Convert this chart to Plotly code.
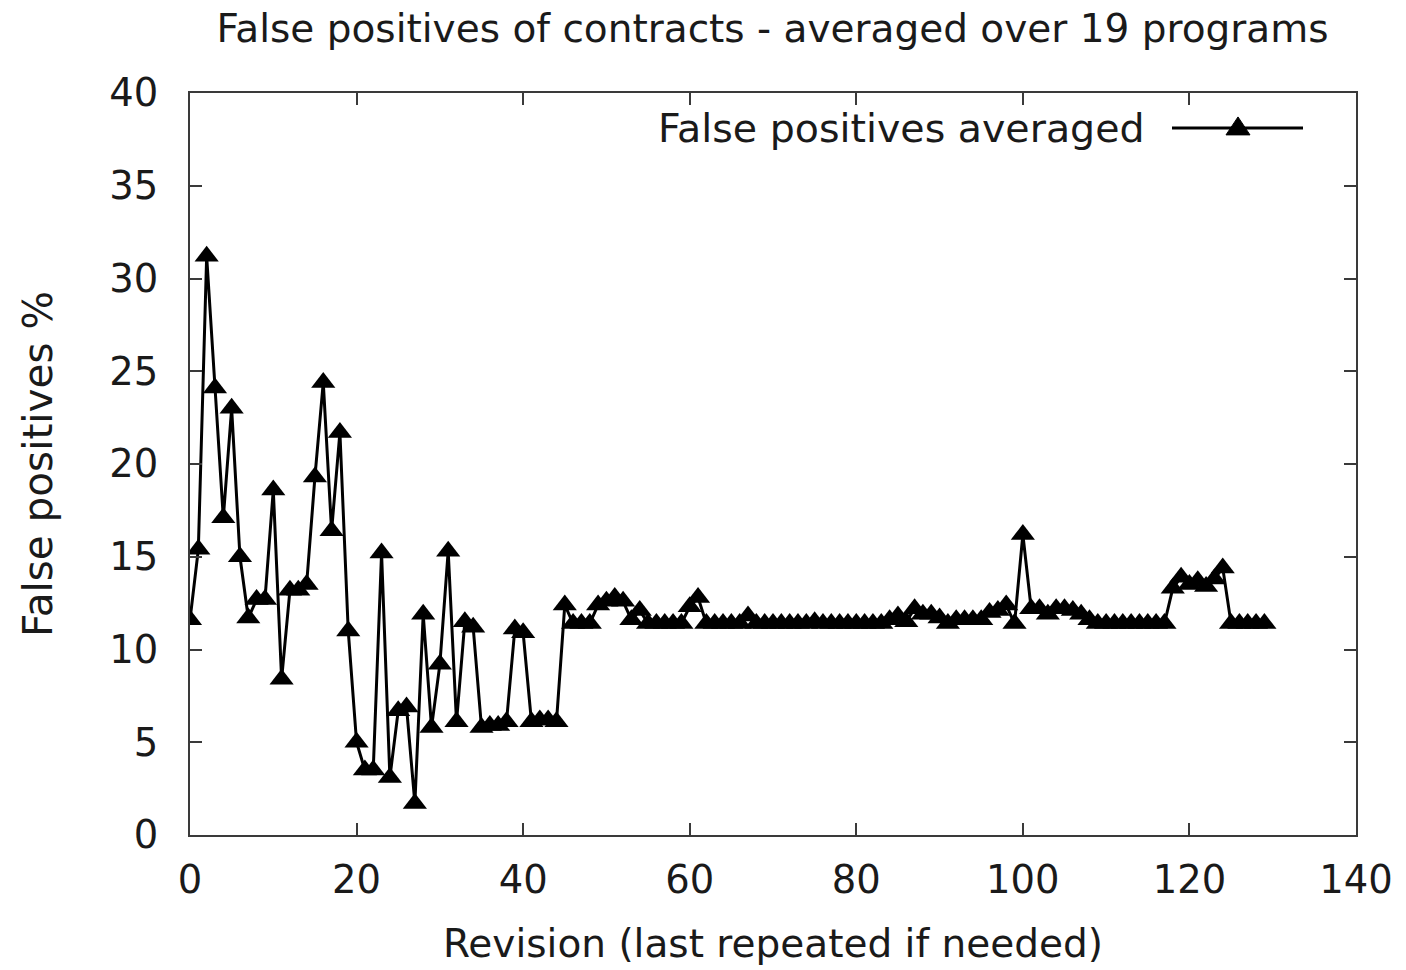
import plotly.graph_objects as go

# ---- data ----
revisions = list(range(130))
false_pos = [
    11.6, 15.4, 31.2, 24.1, 17.1, 23.0, 15.0, 11.7, 12.7, 12.7,
    18.6, 8.4, 13.2, 13.2, 13.5, 19.3, 24.4, 16.4, 21.7, 11.0,
    5.0, 3.5, 3.5, 15.2, 3.1, 6.7, 6.9, 1.7, 11.9, 5.8,
    9.2, 15.3, 6.1, 11.5, 11.2, 5.8, 5.9, 5.9, 6.1, 11.1,
    10.9, 6.1, 6.2, 6.2, 6.1, 12.4, 11.4, 11.4, 11.4, 12.4,
    12.6, 12.8, 12.6, 11.6, 12.1, 11.4, 11.4, 11.4, 11.4, 11.4,
    12.3, 12.8, 11.4, 11.4, 11.4, 11.4, 11.4, 11.8, 11.4, 11.4,
    11.4, 11.4, 11.4, 11.4, 11.4, 11.5, 11.4, 11.4, 11.4, 11.4,
    11.4, 11.4, 11.4, 11.4, 11.6, 11.8, 11.5, 12.2, 11.9, 11.9,
    11.7, 11.4, 11.6, 11.6, 11.6, 11.6, 12.0, 12.1, 12.4, 11.4,
    16.2, 12.2, 12.2, 11.9, 12.2, 12.2, 12.1, 11.9, 11.6, 11.4,
    11.4, 11.4, 11.4, 11.4, 11.4, 11.4, 11.4, 11.4, 13.3, 13.9,
    13.5, 13.7, 13.4, 13.8, 14.4, 11.4, 11.4, 11.4, 11.4, 11.4,
]
x_ticks = [0, 20, 40, 60, 80, 100, 120, 140]
y_ticks = [0, 5, 10, 15, 20, 25, 30, 35, 40]
series_name = "False positives averaged"
title_text = "False positives of contracts - averaged over 19 programs"
x_title = "Revision (last repeated if needed)"
y_title = "False positives %"

# ---- layout geometry (pixels) ----
W, H = 1406, 970
L, R, T, B = 190, 1356, 93, 837
FONT = "DejaVu Sans, Liberation Sans, Arial, sans-serif"
TXT = "#1a1a1a"


def px(xp):
    return (xp - L) / (R - L)


def py(yp):
    return (B - yp) / (B - T)


fig = go.Figure()
fig.add_trace(go.Scatter(
    x=revisions, y=false_pos, mode="lines+markers", name=series_name,
    line=dict(color="black", width=3),
    marker=dict(symbol="triangle-up", size=21, color="black"),
    showlegend=False,
))

axis_common = dict(
    showgrid=False, zeroline=False, showline=True, linecolor="#3a3a3a",
    linewidth=2, mirror="allticks", ticks="inside", ticklen=12,
    tickwidth=2, tickcolor="#3a3a3a",
    tickfont=dict(family=FONT, size=38.5, color=TXT),
)

fig.update_layout(
    width=W, height=H,
    margin=dict(l=L, r=W - R, t=T, b=H - B),
    paper_bgcolor="white", plot_bgcolor="white",
    font=dict(family=FONT, color=TXT),
    title=dict(text=title_text, x=(220 + 1325) / 2 / W, xanchor="center",
               y=1 - 28 / H, yanchor="middle",
               font=dict(family=FONT, size=39, color=TXT)),
    xaxis=dict(range=[0, 140], tickvals=x_ticks, ticklabelstandoff=10,
               title=dict(text=x_title, standoff=28,
                          font=dict(family=FONT, size=39, color=TXT)),
               **axis_common),
    yaxis=dict(range=[0, 40], tickvals=y_ticks, ticklabelstandoff=22,
               title=dict(text=y_title, standoff=44,
                          font=dict(family=FONT, size=40.5, color=TXT)),
               **axis_common),
    showlegend=False,
)

# legend (gnuplot style: text on the left, sample on the right)
ly = 128
fig.add_annotation(text=series_name, xref="paper", yref="paper",
                   x=px(1147), y=py(ly), xanchor="right", yanchor="middle",
                   showarrow=False,
                   font=dict(family=FONT, size=39.5, color=TXT))
fig.add_shape(type="line", xref="paper", yref="paper",
              x0=px(1172), x1=px(1303), y0=py(ly), y1=py(ly),
              line=dict(color="black", width=3))
cx = 1238
tri = "M{:.5f},{:.5f} L{:.5f},{:.5f} L{:.5f},{:.5f} Z".format(
    px(cx), py(ly - 11), px(cx - 12), py(ly + 7), px(cx + 12), py(ly + 7))
fig.add_shape(type="path", xref="paper", yref="paper", path=tri,
              fillcolor="black", line=dict(color="black", width=1))

fig.write_html("out.html")
